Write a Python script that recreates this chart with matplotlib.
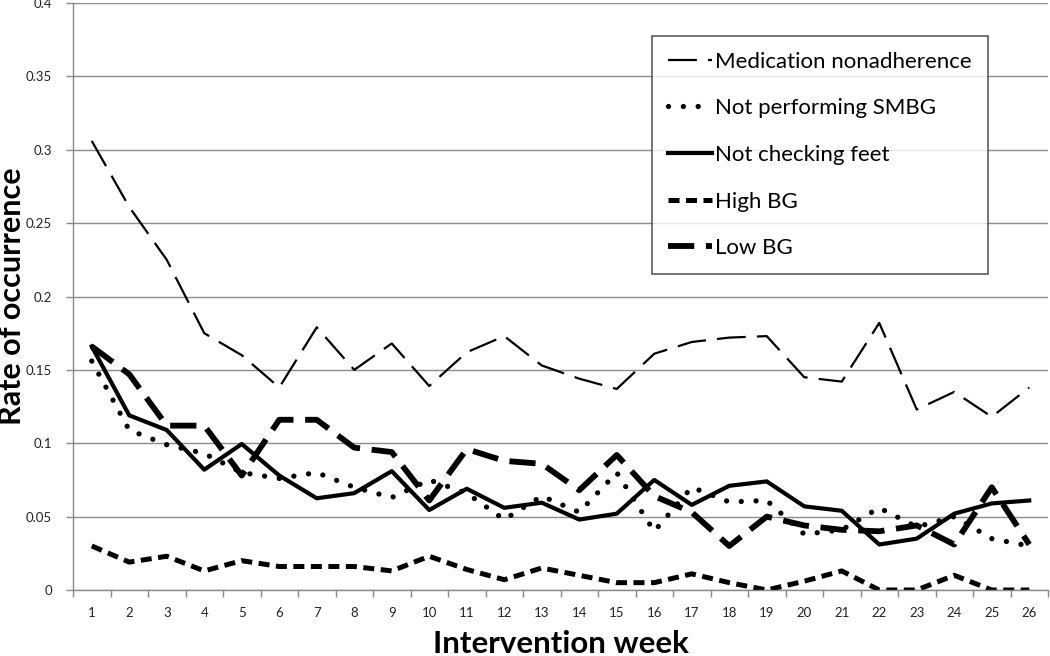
import matplotlib
matplotlib.use("Agg")
import matplotlib.pyplot as plt
import numpy as np

weeks = list(range(1, 27))
med_nonadherence = [0.306, 0.261, 0.225, 0.175, 0.160, 0.138, 0.179, 0.150, 0.168, 0.139,
                    0.162, 0.173, 0.153, 0.144, 0.137, 0.161, 0.169, 0.172, 0.173, 0.145,
                    0.142, 0.182, 0.123, 0.135, 0.118, 0.138]
not_smbg = [0.156, 0.109, 0.099, 0.093, 0.080, 0.076, 0.080, 0.070, 0.063, 0.075,
            0.066, 0.048, 0.064, 0.053, 0.080, 0.040, 0.070, 0.060, 0.061, 0.038,
            0.041, 0.056, 0.043, 0.050, 0.035, 0.030]
not_feet = [0.166, 0.119, 0.109, 0.082, 0.0995, 0.078, 0.0625, 0.066, 0.081, 0.0545,
            0.069, 0.056, 0.0595, 0.048, 0.052, 0.075, 0.058, 0.071, 0.074, 0.057,
            0.054, 0.031, 0.035, 0.052, 0.059, 0.061]
high_bg = [0.030, 0.019, 0.023, 0.013, 0.020, 0.016, 0.016, 0.016, 0.013, 0.023,
           0.014, 0.007, 0.015, 0.010, 0.005, 0.005, 0.011, 0.005, 0.0, 0.006,
           0.013, 0.0, 0.0, 0.010, 0.0, 0.0]
low_bg = [0.166, 0.147, 0.112, 0.112, 0.078, 0.116, 0.116, 0.097, 0.094, 0.061,
          0.096, 0.088, 0.086, 0.068, 0.092, 0.064, 0.053, 0.030, 0.050, 0.044,
          0.041, 0.040, 0.044, 0.031, 0.070, 0.031]
labels = ["Medication nonadherence", "Not performing SMBG", "Not checking feet",
          "High BG", "Low BG"]
yticks = [0, 0.05, 0.1, 0.15, 0.2, 0.25, 0.3, 0.35, 0.4]
ytick_labels = ["0", "0.05", "0.1", "0.15", "0.2", "0.25", "0.3", "0.35", "0.4"]

plt.rcParams['font.family'] = ['Lato', 'DejaVu Sans']

fig = plt.figure(figsize=(10.5, 6.56), dpi=100)
ax = fig.add_axes([73/1050, 1 - 590/656, (1048-73)/1050, (590-3)/656])

x = np.array(weeks)
ax.plot(x, med_nonadherence, color='black', lw=1.6, dashes=(13, 5), label=labels[0])
ax.plot(x, not_smbg, color='black', lw=3.8, dashes=(0.01, 2.8), dash_capstyle='round',
        solid_capstyle='round', label=labels[1])
ax.plot(x, not_feet, color='black', lw=3.0, label=labels[2])
ax.plot(x, high_bg, color='black', lw=3.6, dashes=(2.2, 1.3), label=labels[3])
ax.plot(x, low_bg, color='black', lw=4.2, dashes=(4.5, 2.0), label=labels[4])

ax.set_xlim(0.5, 26.5)
ax.set_ylim(0, 0.4)
ax.set_yticks(yticks)
ax.set_yticklabels(ytick_labels)
ax.set_xticks(weeks)
ax.set_xticklabels([str(w) for w in weeks])
ax.set_xticks(np.arange(0.5, 27, 1), minor=True)
ax.tick_params(axis='x', which='major', length=0, pad=12, labelsize=9.5, colors='#222222')
ax.tick_params(axis='x', which='minor', length=5, color='#888888', width=1)
ax.tick_params(axis='y', which='major', length=5, color='#888888', width=1,
               labelsize=9.5, pad=10, labelcolor='#222222')

ax.grid(axis='y', color='#8c8c8c', lw=1)
ax.set_axisbelow(True)
for s in ['top', 'right']:
    ax.spines[s].set_visible(False)
for s in ['left', 'bottom']:
    ax.spines[s].set_color('#888888')
    ax.spines[s].set_linewidth(1)

ax.set_xlabel("Intervention week", fontsize=22.5, fontweight='bold', labelpad=8)
ax.set_ylabel("Rate of occurrence", fontsize=22, fontweight='bold')
ax.yaxis.set_label_coords(-47/975, 0.5)

leg = ax.legend(loc='upper left', bbox_to_anchor=((652-73)/975, (590-36)/587),
                fontsize=16, frameon=True, fancybox=False, edgecolor='#333333',
                handlelength=2.0, handletextpad=0.15, labelspacing=1.2,
                borderpad=0.7, borderaxespad=0)
leg.get_frame().set_linewidth(1.2)

fig.savefig("out.png", dpi=100)
